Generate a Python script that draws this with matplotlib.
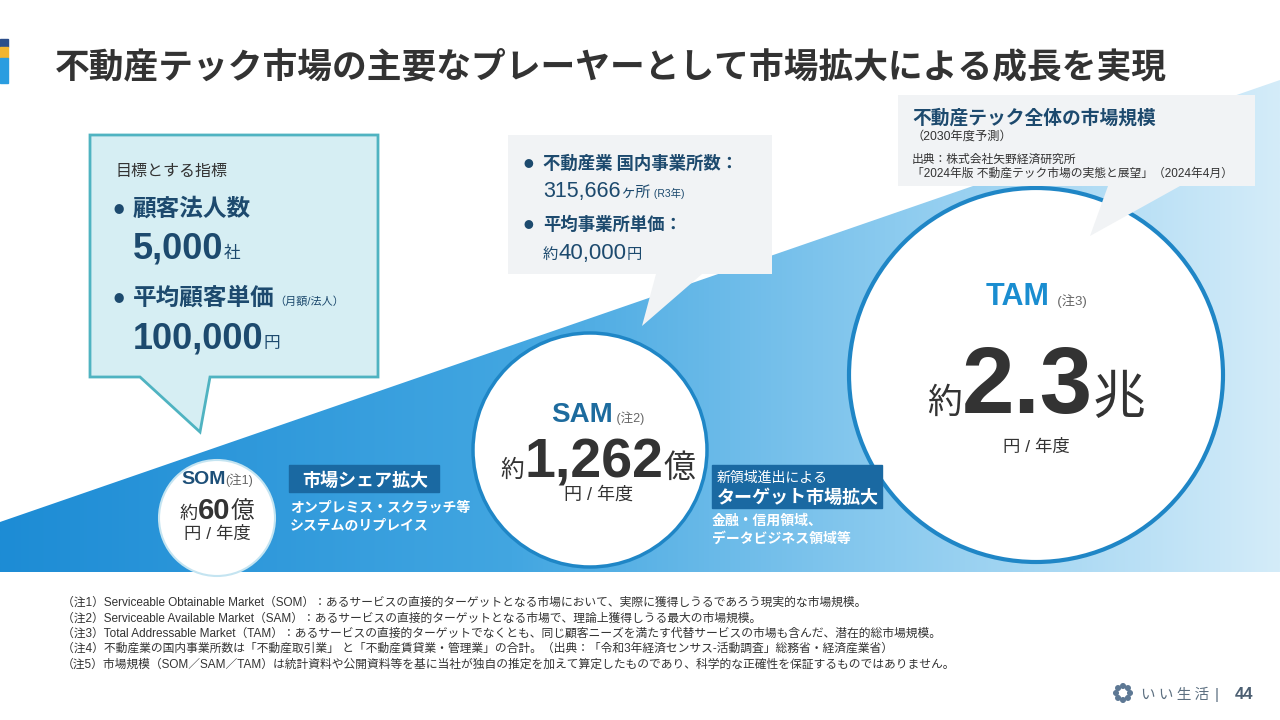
import numpy as np
import matplotlib
matplotlib.use("Agg")
import matplotlib.pyplot as plt
from matplotlib.patches import Polygon, Circle, Rectangle

JP = ["Noto Sans CJK JP", "DejaVu Sans"]
MIX = ["Liberation Sans", "Noto Sans CJK JP", "DejaVu Sans"]

# --- content -------------------------------------------------------------
title = "不動産テック市場の主要なプレーヤーとして市場拡大による成長を実現"

markets = ["SOM", "SAM", "TAM"]
market_notes = ["(注1)", "(注2)", "(注3)"]
market_values = ["60", "1,262", "2.3"]
market_units = ["億", "億", "兆"]
per_year = "円 / 年度"

kpi_heading = "目標とする指標"
kpi_names = ["顧客法人数", "平均顧客単価"]
kpi_notes = ["", "（月額/法人）"]
kpi_values = ["5,000", "100,000"]
kpi_units = ["社", "円"]

sam_names = ["不動産業 国内事業所数：", "平均事業所単価："]
sam_offices = "315,666"
sam_price = "40,000"

tam_title = "不動産テック全体の市場規模"
tam_sub = "（2030年度予測）"
tam_source = ["出典：株式会社矢野経済研究所",
              "「2024年版 不動産テック市場の実態と展望」（2024年4月）"]

share_label = "市場シェア拡大"
share_text = ["オンプレミス・スクラッチ等", "システムのリプレイス"]
target_label = ["新領域進出による", "ターゲット市場拡大"]
target_text = ["金融・信用領域、", "データビジネス領域等"]

footnotes = [
    "（注1）Serviceable Obtainable Market（SOM）：あるサービスの直接的ターゲットとなる市場において、実際に獲得しうるであろう現実的な市場規模。",
    "（注2）Serviceable Available Market（SAM）：あるサービスの直接的ターゲットとなる市場で、理論上獲得しうる最大の市場規模。",
    "（注3）Total Addressable Market（TAM）：あるサービスの直接的ターゲットでなくとも、同じ顧客ニーズを満たす代替サービスの市場も含んだ、潜在的総市場規模。",
    "（注4）不動産業の国内事業所数は「不動産取引業」 と「不動産賃貸業・管理業」の合計。（出典：「令和3年経済センサス-活動調査」総務省・経済産業省）",
    "（注5）市場規模（SOM／SAM／TAM）は統計資料や公開資料等を基に当社が独自の推定を加えて算定したものであり、科学的な正確性を保証するものではありません。",
]
page = "44"

# --- figure --------------------------------------------------------------
fig = plt.figure(figsize=(12.8, 7.2), dpi=100)
ax = fig.add_axes([0, 0, 1, 1])
rend = fig.canvas.get_renderer()

DARK = "#333333"
NAVY = "#1d4a6e"


def run(x, y, parts, ha="left"):
    # place differently sized text pieces side by side on one baseline
    objs = []
    for s, size, weight, color in parts:
        objs.append(ax.text(0, y, s, fontsize=size, fontweight=weight, color=color,
                            family=MIX, va="baseline", ha="left", zorder=6))
    widths = [t.get_window_extent(renderer=rend).width for t in objs]
    cur = x - sum(widths) / 2 if ha == "center" else x
    for t, w in zip(objs, widths):
        t.set_x(cur)
        cur += w
    return objs


# gradient wedge
xs = np.linspace(0, 1, 512)
stops = [0, 0.4, 0.7, 1.0]
cols = np.array([[29, 140, 213], [66, 166, 225], [140, 203, 239], [212, 236, 249]]) / 255
grad = np.stack([np.interp(xs, stops, cols[:, i]) for i in range(3)], axis=-1)[None, :, :]
im = ax.imshow(grad, extent=(0, 1280, 572, 80), aspect="auto", zorder=1)
wedge = Polygon([(0, 522), (1280, 80), (1280, 572), (0, 572)], closed=True,
                facecolor="none", edgecolor="none")
ax.add_patch(wedge)
im.set_clip_path(wedge)

ax.set_xlim(0, 1280)
ax.set_ylim(720, 0)
ax.axis("off")

# title + colour bar
ax.add_patch(Rectangle((0, 39), 8, 8, color="#2c4e8a", zorder=5))
ax.add_patch(Rectangle((0, 47), 8, 11, color="#f2b530", zorder=5))
ax.add_patch(Rectangle((0, 58), 8, 25, color="#2a9de0", zorder=5))
ax.text(55, 77, title, fontsize=25, fontweight="bold", color=DARK, family=JP,
        va="baseline", zorder=6)

# circles
circles = [(217, 518, 58, "#c4e4f1", 1.5), (590, 450, 117, "#1f86c6", 2.5),
           (1036, 375, 187, "#1f86c6", 3)]
for cx, cy, r, ec, lw in circles:
    ax.add_patch(Circle((cx, cy), r, facecolor="white", edgecolor=ec, lw=lw, zorder=3))

label_cols = ["#1d4f78", "#1d6b9e", "#1a8dd0"]
# SOM
run(217, 484, [(markets[0], 14, "bold", label_cols[0]), (market_notes[0], 9, "normal", "#666666")], "center")
run(217, 519, [("約", 13, "normal", DARK), (market_values[0], 21, "bold", DARK),
               (market_units[0], 17, "normal", DARK)], "center")
run(217, 539, [(per_year, 12.5, "normal", DARK)], "center")
# SAM
run(598, 422, [(markets[1], 20, "bold", label_cols[1]), (" " + market_notes[1], 9, "normal", "#666666")], "center")
run(598, 477, [("約", 17, "normal", DARK), (market_values[1], 40, "bold", DARK),
               (market_units[1], 23, "normal", DARK)], "center")
run(598, 500, [(per_year, 13, "normal", DARK)], "center")
# TAM
run(1036, 305, [(markets[2], 22, "bold", label_cols[2]), ("  " + market_notes[2], 9.5, "normal", "#666666")], "center")
run(1036, 413, [("約", 25, "normal", DARK), (market_values[2], 68, "bold", DARK),
                (market_units[2], 38, "normal", DARK)], "center")
run(1036, 452, [(per_year, 12.5, "normal", DARK)], "center")

# left callout (KPI)
ax.add_patch(Polygon([(90, 135), (378, 135), (378, 377), (210, 377), (200, 432),
                      (140, 377), (90, 377)], closed=True, facecolor="#d6eef3",
                     edgecolor="#4fb3c1", lw=2, joinstyle="miter", zorder=4))
ax.text(115, 176, kpi_heading, fontsize=11.5, color=DARK, family=JP, va="baseline", zorder=6)
for i, (nm, note, val, unit) in enumerate(zip(kpi_names, kpi_notes, kpi_values, kpi_units)):
    yb = 216 + 89 * i
    ax.text(114, yb - 3, "●", fontsize=7.5, color=NAVY, family=JP, va="baseline", zorder=6)
    run(133, yb, [(nm, 17, "bold", NAVY), (note, 8, "normal", NAVY)])
    run(133, yb + 42 + 1 * i, [(val, 26, "bold", NAVY), (unit, 12, "normal", NAVY)])

# middle callout (SAM basis)
ax.add_patch(Polygon([(508, 135), (772, 135), (772, 274), (702, 274), (642, 326),
                      (656, 274), (508, 274)], closed=True, facecolor="#f1f3f5",
                     edgecolor="none", zorder=4))
for i, nm in enumerate(sam_names):
    yb = 169 + 61 * i
    ax.text(523, yb - 2, "●", fontsize=7, color=NAVY, family=JP, va="baseline", zorder=6)
    ax.text(543, yb, nm, fontsize=12.5, fontweight="bold", color=NAVY, family=JP,
            va="baseline", zorder=6)
run(543, 197, [(sam_offices, 15.5, "normal", NAVY), ("ヶ所", 11, "normal", NAVY),
               (" (R3年)", 7.5, "normal", NAVY)])
run(543, 259, [("約", 11, "normal", NAVY), (sam_price, 16, "normal", NAVY), ("円", 11, "normal", NAVY)])

# right callout (TAM source)
ax.add_patch(Polygon([(898, 95), (1255, 95), (1255, 186), (1180, 186), (1090, 236),
                      (1108, 186), (898, 186)], closed=True, facecolor="#f1f3f5",
                     edgecolor="none", zorder=4))
ax.text(912, 124, tam_title, fontsize=13.5, fontweight="bold", color=NAVY, family=JP,
        va="baseline", zorder=6)
ax.text(912, 140, tam_sub, fontsize=8.8, color=DARK, family=MIX, va="baseline", zorder=6)
for i, s in enumerate(tam_source):
    ax.text(912, 163 + 14 * i, s, fontsize=8.5, color=DARK, family=MIX, va="baseline", zorder=6)

# growth labels
ax.add_patch(Rectangle((289, 465), 150, 27, color="#1a69a2", zorder=4))
ax.text(302, 486, share_label, fontsize=13, fontweight="bold", color="white", family=JP,
        va="baseline", zorder=6)
for i, s in enumerate(share_text):
    ax.text(290, 512 + 18 * i, s, fontsize=10, fontweight="bold", color="white", family=JP,
            va="baseline", zorder=6)

ax.add_patch(Rectangle((712, 465), 170, 43, color="#1a69a2", zorder=4))
ax.text(717, 482, target_label[0], fontsize=10, color="white", family=JP, va="baseline", zorder=6)
ax.text(717, 503, target_label[1], fontsize=13, fontweight="bold", color="white", family=JP,
        va="baseline", zorder=6)
for i, s in enumerate(target_text):
    ax.text(712, 525 + 18 * i, s, fontsize=10, fontweight="bold", color="white", family=JP,
            va="baseline", zorder=6)

# footnotes
for i, s in enumerate(footnotes):
    ax.text(62, 606 + 15.4 * i, s, fontsize=8.5, color=DARK, family=MIX, va="baseline", zorder=6)

# footer
for k in range(8):
    a = 2 * np.pi * k / 8
    ax.add_patch(Circle((1123 + 7 * np.cos(a), 693 + 7 * np.sin(a)), 2.3,
                        color="#5d7894", zorder=6))
ax.text(1141, 699, "い い 生 活", fontsize=10.5, color="#5c6f80", family=JP, va="baseline", zorder=6)
ax.text(1215, 699, "|", fontsize=11, color="#5c6f80", family=MIX, va="baseline", zorder=6)
ax.text(1235, 699, page, fontsize=12, fontweight="bold", color="#4c5f72", family=MIX,
        va="baseline", zorder=6)

fig.savefig("out.png", dpi=100)
